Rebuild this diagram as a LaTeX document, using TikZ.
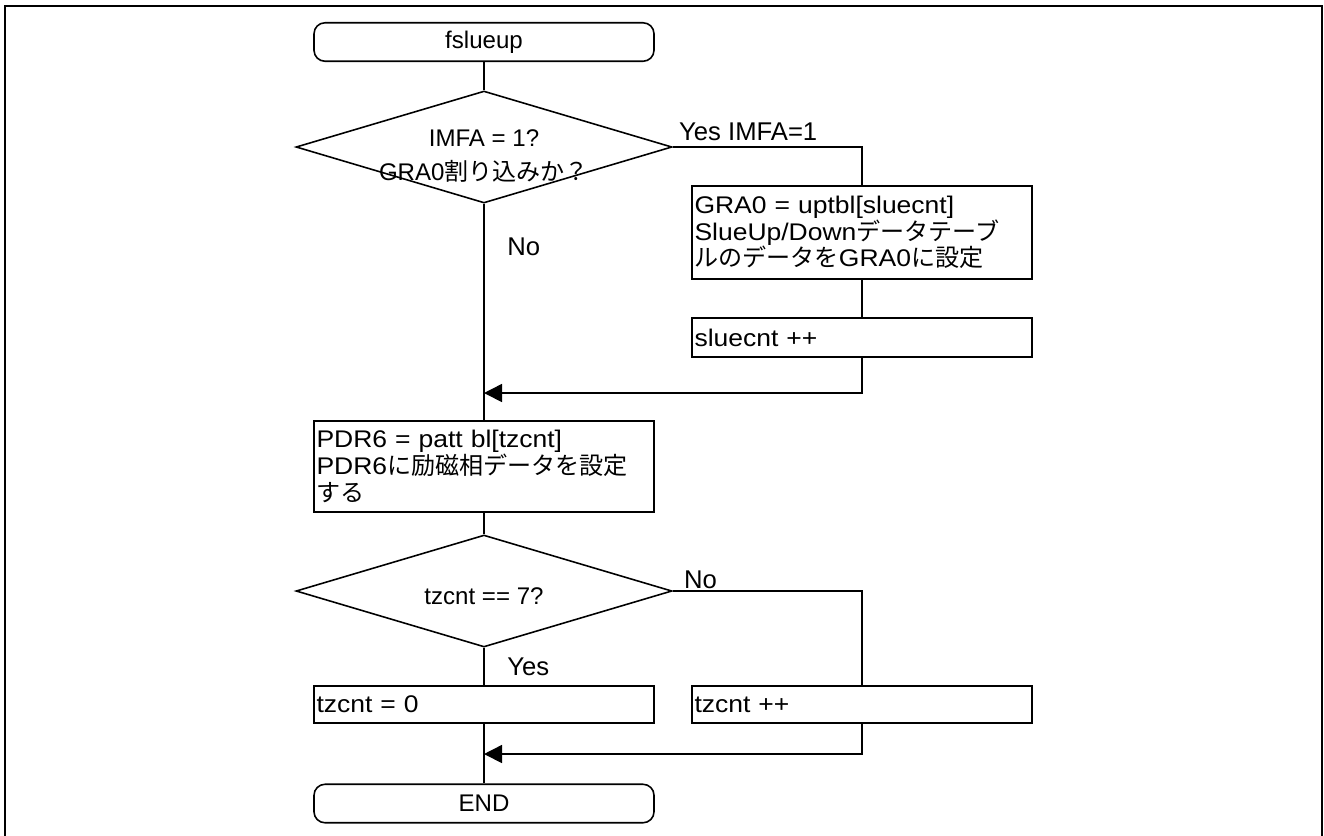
\documentclass[tikz,border=0pt]{standalone}
\usepackage{fontspec}
\setmainfont{Liberation Sans}
\newfontfamily\jp{Noto Sans CJK JP}
\newfontfamily\wide{Liberation Sans}[FakeStretch=1.1]
\usetikzlibrary{arrows.meta, shapes.geometric, calc}
\tikzset{every node/.append style={font=\fontsize{13.7}{15.2}\selectfont}}
\tikzset{term/.style={draw, line width=0.9pt, rounded corners=0.22cm, minimum width=6.8cm, minimum height=0.77cm, inner sep=0pt}}
\tikzset{proc/.style={draw, line width=0.9pt, minimum width=6.8cm, text width=6.7cm, align=left, inner xsep=0.05cm, inner ysep=0pt, font=\fontsize{13.7}{15.2}\selectfont\wide}}
\tikzset{dec/.style={draw, diamond, aspect=3.36, line width=0.9pt, minimum width=7.52cm, minimum height=2.24cm, inner sep=0pt}}
\tikzset{lbl/.style={inner sep=0pt, font=\fontsize{14.6}{16}\selectfont}}
\tikzset{flow/.style={line width=0.9pt}}
\tikzset{arr/.style={flow, -{Triangle[length=0.36cm, width=0.36cm]}}}

\begin{document}
\begin{tikzpicture}
\useasboundingbox (0,0) rectangle (26.48,-16.7);
\draw[line width=1.2pt] (0.1,-0.12) rectangle (26.44,-17.2);
\node[term] (start) at (9.68,-0.84) {fslueup};
\node[dec] (q1) at (9.68,-2.94) {};
\node[align=center, font=\fontsize{13.7}{19.6}\selectfont] (q1t) at (9.68,-3.12) {IMFA = 1?\\GRA0{\jp 割り込みか？}};
\node[proc, minimum height=1.86cm] (gra) at (17.24,-4.65) {GRA0 = uptbl[sluecnt]\\SlueUp/Down{\jp データテーブ}\\{\jp ルのデータを}GRA0{\jp に設定}};
\node[proc, minimum height=0.78cm] (slue) at (17.24,-6.75) {sluecnt ++};
\node[proc, minimum height=1.82cm] (pdr) at (9.68,-9.33) {PDR6 = patt bl[tzcnt]\\PDR6{\jp に励磁相データを設定}\\{\jp する}};
\node[dec] (q2) at (9.68,-11.82) {};
\node (q2t) at (9.68,-11.93) {tzcnt == 7?};
\node[proc, minimum height=0.74cm] (tz0) at (9.68,-14.09) {tzcnt = 0};
\node[proc, minimum height=0.74cm] (tzinc) at (17.24,-14.09) {tzcnt ++};
\node[term] (end) at (9.68,-16.07) {END};
\coordinate (m1) at (9.68,-7.86);
\coordinate (m2) at (9.68,-15.08);
\node[lbl, anchor=base west] (yes1) at ($(q1.east)+(0.12,0.14)$) {Yes IMFA=1};
\node[lbl, anchor=west] (no1) at (10.14,-4.94) {No};
\node[lbl, anchor=base west] (no2) at ($(q2.east)+(0.22,0.06)$) {No};
\node[lbl, anchor=west] (yes2) at (10.14,-13.34) {Yes};
\draw[flow] (start) -- (q1);
\draw[flow] (q1.east) -| (gra.north);
\draw[flow] (gra) -- (slue);
\draw[arr] (slue.south) |- (m1);
\draw[flow] (q1) -- (pdr);
\draw[flow] (pdr) -- (q2);
\draw[flow] (q2.east) -| (tzinc.north);
\draw[flow] (q2) -- (tz0);
\draw[flow] (tz0) -- (end);
\draw[arr] (tzinc.south) |- (m2);
\end{tikzpicture}
\end{document}
